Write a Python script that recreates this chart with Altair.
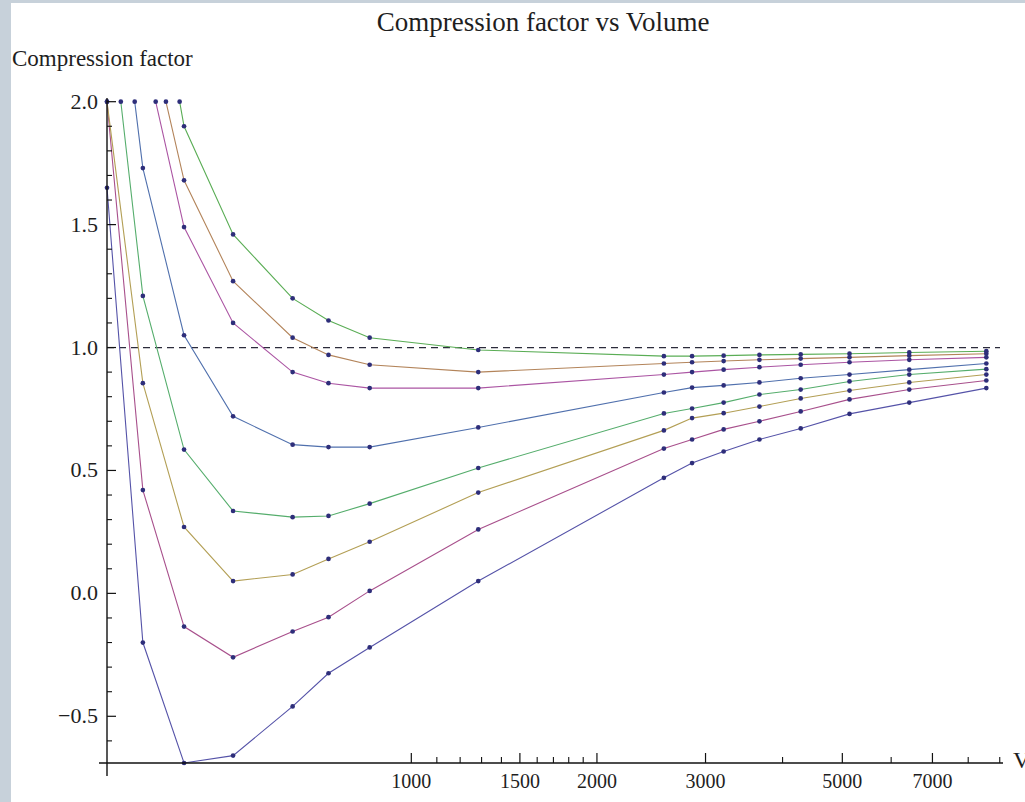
import altair as alt
import pandas as pd

# ---- data (Volume V, compression factor Z) ----
V_S1 = [321, 367, 428, 514, 642, 734, 856, 1284, 2568, 2853, 3210, 3669, 4280, 5136, 6420, 8560]
Z_S1 = [1.65, -0.20, -0.69, -0.66, -0.46, -0.325, -0.22, 0.05, 0.47, 0.53, 0.577, 0.626, 0.671, 0.73, 0.776, 0.835]
V_S2 = [321, 367, 428, 514, 642, 734, 856, 1284, 2568, 2853, 3210, 3669, 4280, 5136, 6420, 8560]
Z_S2 = [2.0, 0.42, -0.135, -0.26, -0.155, -0.097, 0.01, 0.26, 0.589, 0.626, 0.667, 0.70, 0.74, 0.789, 0.829, 0.866]
V_S3 = [321, 367, 428, 514, 642, 734, 856, 1284, 2568, 2853, 3210, 3669, 4280, 5136, 6420, 8560]
Z_S3 = [2.0, 0.855, 0.27, 0.05, 0.077, 0.14, 0.21, 0.41, 0.663, 0.713, 0.733, 0.76, 0.793, 0.825, 0.858, 0.89]
V_S4 = [338, 367, 428, 514, 642, 734, 856, 1284, 2568, 2853, 3210, 3669, 4280, 5136, 6420, 8560]
Z_S4 = [2.0, 1.21, 0.585, 0.335, 0.31, 0.315, 0.365, 0.51, 0.732, 0.752, 0.776, 0.809, 0.829, 0.862, 0.89, 0.912]
V_S5 = [356, 367, 428, 514, 642, 734, 856, 1284, 2568, 2853, 3210, 3669, 4280, 5136, 6420, 8560]
Z_S5 = [2.0, 1.73, 1.05, 0.72, 0.605, 0.595, 0.595, 0.675, 0.817, 0.837, 0.846, 0.858, 0.875, 0.89, 0.91, 0.935]
V_S6 = [385, 428, 514, 642, 734, 856, 1284, 2568, 2853, 3210, 3669, 4280, 5136, 6420, 8560]
Z_S6 = [2.0, 1.49, 1.10, 0.90, 0.855, 0.835, 0.835, 0.89, 0.90, 0.91, 0.92, 0.93, 0.94, 0.95, 0.96]
V_S7 = [400, 428, 514, 642, 734, 856, 1284, 2568, 2853, 3210, 3669, 4280, 5136, 6420, 8560]
Z_S7 = [2.0, 1.68, 1.27, 1.04, 0.97, 0.93, 0.90, 0.935, 0.94, 0.945, 0.95, 0.955, 0.96, 0.967, 0.975]
V_S8 = [421, 428, 514, 642, 734, 856, 1284, 2568, 2853, 3210, 3669, 4280, 5136, 6420, 8560]
Z_S8 = [2.0, 1.90, 1.46, 1.20, 1.11, 1.04, 0.99, 0.965, 0.965, 0.967, 0.97, 0.972, 0.975, 0.98, 0.985]

SERIES = ["S1", "S2", "S3", "S4", "S5", "S6", "S7", "S8"]
COLORS = ["#5553a8", "#a8508c", "#b39f55", "#55ad6c", "#5070ad", "#ab55a3", "#b3845a", "#5aad55"]

X_MAJOR = [1000, 1500, 2000, 3000, 5000, 7000]
X_LABELS = ["1000", "1500", "2000", "3000", "5000", "7000"]
X_MINOR = [1100, 1200, 1300, 1400, 1600, 1700, 1800, 1900, 4000, 6000, 8000, 9000]
Y_MAJOR = [-0.5, 0.0, 0.5, 1.0, 1.5, 2.0]
Y_LABELS = ["\u22120.5", "0.0", "0.5", "1.0", "1.5", "2.0"]
Y_MINOR = [-0.6, -0.4, -0.3, -0.2, -0.1, 0.1, 0.2, 0.3, 0.4, 0.6, 0.7, 0.8, 0.9,
           1.1, 1.2, 1.3, 1.4, 1.6, 1.7, 1.8, 1.9]

TITLE = "Compression factor vs Volume"
Y_TITLE = "Compression factor"
X_TITLE = "V"

# ---- build long table ----
rows = []
pairs = [(V_S1, Z_S1), (V_S2, Z_S2), (V_S3, Z_S3), (V_S4, Z_S4),
         (V_S5, Z_S5), (V_S6, Z_S6), (V_S7, Z_S7), (V_S8, Z_S8)]
for name, (vs, zs) in zip(SERIES, pairs):
    for i, (v, z) in enumerate(zip(vs, zs)):
        rows.append({"series": name, "V": v, "Z": z, "i": i})
df = pd.DataFrame(rows)

W, H = 896, 665
SERIF = "Liberation Serif"
INK = "#1e1e1e"
xscale = alt.Scale(type="log", domain=[321, 9110], nice=False)
yscale = alt.Scale(domain=[-0.69, 2.015], nice=False, zero=False)

base = alt.Chart(df)

lines = base.mark_line(strokeWidth=1.1).encode(
    x=alt.X("V:Q", scale=xscale, axis=None),
    y=alt.Y("Z:Q", scale=yscale, axis=None),
    color=alt.Color("series:N", scale=alt.Scale(domain=SERIES, range=COLORS), legend=None),
    order="i:Q",
)

points = base.mark_circle(size=22, color="#2e2e7a", opacity=1).encode(
    x=alt.X("V:Q", scale=xscale, axis=None),
    y=alt.Y("Z:Q", scale=yscale, axis=None),
)

dashed = alt.Chart(pd.DataFrame({"Z": [1.0]})).mark_rule(
    color="#2b2b3b", strokeWidth=1.3, strokeDash=[7, 5]
).encode(
    y=alt.Y("Z:Q", scale=yscale, axis=None),
    x=alt.value(0), x2=alt.value(893),
)

# axis lines (Mathematica style crossing axes)
x_axis_line = alt.Chart(pd.DataFrame({"a": [0]})).mark_rule(color="#111", strokeWidth=1.4).encode(
    x=alt.value(-8), x2=alt.value(W), y=alt.value(H)
)
y_axis_line = alt.Chart(pd.DataFrame({"a": [0]})).mark_rule(color="#111", strokeWidth=1.4).encode(
    x=alt.value(0), y=alt.value(0), y2=alt.value(H + 13)
)

# inward ticks
xmaj = alt.Chart(pd.DataFrame({"V": X_MAJOR})).mark_rule(color="#111", strokeWidth=1.2).encode(
    x=alt.X("V:Q", scale=xscale, axis=None), y=alt.value(H), y2=alt.value(H - 10)
)
xmin = alt.Chart(pd.DataFrame({"V": X_MINOR})).mark_rule(color="#111", strokeWidth=1.1).encode(
    x=alt.X("V:Q", scale=xscale, axis=None), y=alt.value(H), y2=alt.value(H - 6)
)
ymaj = alt.Chart(pd.DataFrame({"Z": Y_MAJOR})).mark_rule(color="#111", strokeWidth=1.2).encode(
    y=alt.Y("Z:Q", scale=yscale, axis=None), x=alt.value(0), x2=alt.value(9)
)
ymin = alt.Chart(pd.DataFrame({"Z": Y_MINOR})).mark_rule(color="#111", strokeWidth=1.1).encode(
    y=alt.Y("Z:Q", scale=yscale, axis=None), x=alt.value(0), x2=alt.value(5)
)

# tick labels
xlab = alt.Chart(pd.DataFrame({"V": X_MAJOR, "t": X_LABELS})).mark_text(
    font=SERIF, fontSize=20, color=INK, align="center", baseline="top"
).encode(x=alt.X("V:Q", scale=xscale, axis=None), y=alt.value(H + 9), text="t:N")
ylab = alt.Chart(pd.DataFrame({"Z": Y_MAJOR, "t": Y_LABELS})).mark_text(
    font=SERIF, fontSize=22, color=INK, align="right", baseline="middle"
).encode(y=alt.Y("Z:Q", scale=yscale, axis=None), x=alt.value(-9), text="t:N")

# texts
title_txt = alt.Chart(pd.DataFrame({"t": [TITLE]})).mark_text(
    font=SERIF, fontSize=27, color=INK, align="center", baseline="alphabetic"
).encode(text="t:N", x=alt.value(436), y=alt.value(-67))
ytitle_txt = alt.Chart(pd.DataFrame({"t": [Y_TITLE]})).mark_text(
    font=SERIF, fontSize=23, color=INK, align="left", baseline="alphabetic"
).encode(text="t:N", x=alt.value(-95), y=alt.value(-32))
xtitle_txt = alt.Chart(pd.DataFrame({"t": [X_TITLE]})).mark_text(
    font=SERIF, fontSize=24, color=INK, align="left", baseline="alphabetic"
).encode(text="t:N", x=alt.value(906), y=alt.value(H + 5))

# light frame strips of the screenshot
frame_left = alt.Chart(pd.DataFrame({"a": [0]})).mark_rect(color="#c7d1da").encode(
    x=alt.value(-107), x2=alt.value(-96), y=alt.value(-98), y2=alt.value(H + 39)
)
frame_top = alt.Chart(pd.DataFrame({"a": [0]})).mark_rect(color="#c7d1da").encode(
    x=alt.value(-107), x2=alt.value(W + 22), y=alt.value(-98), y2=alt.value(-95)
)

chart = alt.layer(
    frame_left, frame_top, dashed, lines, points,
    x_axis_line, y_axis_line, xmaj, xmin, ymaj, ymin,
    xlab, ylab, title_txt, ytitle_txt, xtitle_txt,
).properties(
    width=W, height=H,
    padding={"left": 107, "top": 98, "right": 22, "bottom": 39},
    autosize="none",
    background="white",
).configure_view(stroke=None)

chart.save("out.html", embed_options={"renderer": "svg", "actions": False})
